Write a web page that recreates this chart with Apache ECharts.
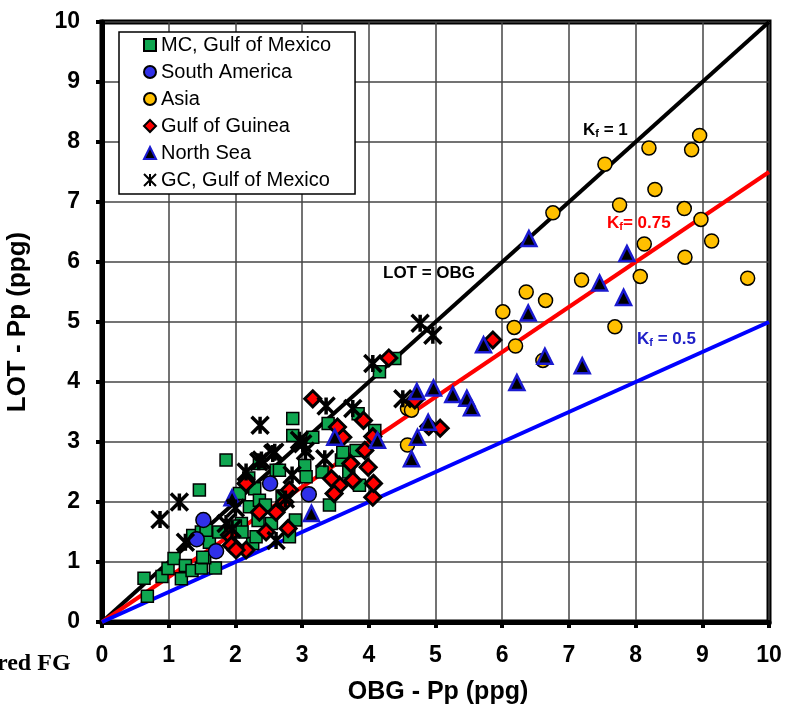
<!DOCTYPE html>
<html>
<head>
<meta charset="utf-8">
<script src="https://cdn.jsdelivr.net/npm/echarts@6/dist/echarts.min.js"></script>
<style>
  html, body { margin: 0; padding: 0; background: #fff; }
  #chart { width: 789px; height: 714px; }
</style>
</head>
<body>
<div id="chart"></div>
<script>
// 数据：OBG - Pp (x) 与 LOT - Pp (y)，单位 ppg
const mcGulf = [
  [0.63,0.73],[0.68,0.43],[0.90,0.76],[0.99,0.89],[1.08,1.06],[1.19,0.72],[1.25,0.94],[1.35,0.86],
  [1.49,0.90],[1.70,0.90],[1.54,1.07],[1.36,1.44],[1.49,1.50],[1.61,1.33],[1.46,2.20],[1.86,2.70],
  [1.51,1.08],[1.56,1.53],[1.75,1.50],[2.09,1.64],[2.34,1.69],[2.54,1.64],[2.26,1.31],[2.31,1.42],
  [2.81,1.42],[2.21,1.92],[2.06,2.14],[2.29,2.22],[2.36,2.03],[2.36,2.64],[2.61,2.53],[2.66,2.53],
  [3.04,2.61],[3.06,2.42],[2.86,3.39],[2.86,3.11],[3.16,3.08],[3.39,3.31],[3.84,3.47],[4.09,3.19],
  [3.59,2.70],[3.41,1.95],[3.86,2.28],[3.81,2.86],[3.61,2.83],[4.16,4.17],[4.39,4.39],[2.00,1.60],
  [2.10,1.50],[2.45,1.95],[2.70,2.10],[2.90,1.70],[2.20,2.40],[3.30,2.50],[3.70,2.50]
];
const southAmerica = [[1.52,1.70],[1.71,1.18],[1.42,1.38],[2.52,2.31],[3.10,2.13]];
const asia = [
  [7.54,7.63],[8.96,8.11],[8.20,7.90],[8.84,7.87],[8.29,7.21],[7.76,6.95],[8.73,6.89],[6.76,6.82],
  [8.98,6.71],[8.13,6.30],[9.14,6.35],[8.74,6.08],[8.07,5.76],[7.19,5.70],[9.68,5.73],[6.36,5.50],
  [6.65,5.36],[7.69,4.92],[6.01,5.17],[6.18,4.91],[6.20,4.60],[6.61,4.36],[4.58,3.56],[4.64,3.53],
  [4.58,2.95]
];
const gulfGuinea = [
  [3.16,3.72],[4.30,4.40],[3.92,3.36],[3.61,3.08],[4.06,3.09],[3.53,3.25],[3.99,2.58],[3.73,2.64],
  [3.56,2.28],[3.48,2.14],[4.06,2.08],[4.07,2.31],[3.76,2.36],[3.44,2.39],[3.94,2.86],[2.16,2.31],
  [4.69,3.70],[4.90,3.26],[5.07,3.23],[5.86,4.70],[2.81,2.20],[2.74,2.00],[2.79,1.56],[2.46,1.50],
  [2.16,1.20],[1.99,1.25],[1.91,1.45],[2.36,1.83],[2.61,1.83],[1.94,1.28],[2.01,1.20]
];
const northSea = [
  [6.40,6.39],[7.87,6.14],[7.46,5.65],[7.82,5.41],[6.39,5.15],[5.72,4.62],[6.64,4.43],[7.20,4.27],
  [6.22,3.99],[4.97,3.90],[4.72,3.84],[5.26,3.79],[5.47,3.73],[5.54,3.57],[4.73,3.08],[4.64,2.72],
  [4.89,3.33],[3.14,1.81],[1.95,2.07],[3.49,3.08],[4.13,3.03]
];
const gcGulf = [
  [0.87,1.71],[1.16,2.00],[1.25,1.33],[1.86,1.64],[2.16,2.50],[2.39,2.70],[2.59,2.83],[2.61,1.36],
  [2.37,3.28],[2.96,3.03],[3.01,2.97],[3.34,2.72],[3.36,3.60],[3.76,3.56],[4.06,4.31],[4.77,4.98],
  [4.96,4.78],[4.51,3.72],[2.56,2.81],[2.35,2.67],[2.00,1.90],[2.75,2.05],[2.85,2.45],[3.05,2.85],
  [1.95,1.55]
];
const kfValues = [1, 0.75, 0.5];
const kfColors = ['#000000', '#ff0000', '#0000ff'];
const axisTicks = [0, 10, 1]; // min, max, interval

const chart = echarts.init(document.getElementById('chart'));

const font = 'Liberation Sans, Arial, sans-serif';
const starPath = 'path://M0,0L10,10M10,0L0,10M5,0L5,10';

function scatter(name, data, symbol, size, color, border, bw) {
  return {
    name, type: 'scatter', data, symbol, symbolSize: size,
    itemStyle: { color, borderColor: border, borderWidth: bw, opacity: 1 },
    z: 3
  };
}

const lineSeries = kfValues.map((k, i) => ({
  name: 'Kf ' + k, type: 'line',
  data: [[axisTicks[0], axisTicks[0] * k], [axisTicks[1], axisTicks[1] * k]],
  symbol: 'none', silent: true,
  lineStyle: { color: kfColors[i], width: 4 },
  z: 2
}));

function kfRich(color) {
  return {
    a: { font: 'bold 17px ' + font, fill: color },
    b: { font: 'bold 11px ' + font, fill: color, padding: [6, 0, 0, 0] }
  };
}

const option = {
  animation: false,
  backgroundColor: '#fff',
  grid: { left: 102, right: 20, top: 22, bottom: 92, show: true, borderColor: '#000', borderWidth: 5 },
  xAxis: {
    type: 'value', min: axisTicks[0], max: axisTicks[1], interval: axisTicks[2],
    axisLine: { lineStyle: { color: '#000', width: 5 } },
    axisTick: { show: true, length: 6, lineStyle: { color: '#000', width: 4 } },
    axisLabel: { margin: 22, fontSize: 23, fontWeight: 'bold', color: '#000', fontFamily: font },
    splitLine: { lineStyle: { color: '#444', width: 1.5 } }
  },
  yAxis: {
    type: 'value', min: axisTicks[0], max: axisTicks[1], interval: axisTicks[2],
    axisLine: { lineStyle: { color: '#000', width: 5 } },
    axisTick: { show: true, length: 6, lineStyle: { color: '#000', width: 4 } },
    axisLabel: { margin: 22, fontSize: 23, fontWeight: 'bold', color: '#000', fontFamily: font },
    splitLine: { lineStyle: { color: '#444', width: 1.5 } }
  },
  legend: {
    data: ['MC, Gulf of Mexico', 'South America', 'Asia', 'Gulf of Guinea', 'North Sea', 'GC, Gulf of Mexico'],
    orient: 'vertical', left: 119, top: 32,
    padding: [3, 24, 4, 24],
    itemGap: 7, itemWidth: 12, itemHeight: 12,
    borderColor: '#000', borderWidth: 1.5, backgroundColor: '#fff',
    textStyle: { fontSize: 20, color: '#000', fontFamily: font, lineHeight: 18 }
  },
  graphic: [
    { type: 'text', x: 438, y: 680,
      style: { text: 'OBG - Pp (ppg)', font: 'bold 25px ' + font, fill: '#000', align: 'center' } },
    { type: 'text', x: 5, y: 322, rotation: Math.PI / 2,
      style: { text: 'LOT - Pp (ppg)', font: 'bold 26px ' + font, fill: '#000', align: 'center' } },
    { type: 'text', x: -3, y: 652,
      style: { text: 'red FG', font: 'bold 24px Liberation Serif, Times New Roman, serif', fill: '#000' } },
    { type: 'text', x: 383, y: 265,
      style: { text: 'LOT = OBG', font: 'bold 17px ' + font, fill: '#000' } },
    { type: 'text', x: 583, y: 122,
      style: { text: '{a|K}{b|f}{a| = 1}', rich: kfRich('#000') } },
    { type: 'text', x: 607, y: 215,
      style: { text: '{a|K}{b|f}{a|= 0.75}', rich: kfRich('#ff0000') } },
    { type: 'text', x: 637, y: 331,
      style: { text: '{a|K}{b|f}{a| = 0.5}', rich: kfRich('#2020c8') } }
  ],
  series: [
    ...lineSeries,
    scatter('MC, Gulf of Mexico', mcGulf, 'rect', 12, '#0fa650', '#000', 1.5),
    scatter('South America', southAmerica, 'circle', 15, '#3030e8', '#000', 1.5),
    scatter('Asia', asia, 'circle', 14, '#ffc000', '#000', 1.5),
    scatter('Gulf of Guinea', gulfGuinea, 'diamond', 16, '#ff0000', '#000', 3),
    scatter('North Sea', northSea, 'triangle', 15, '#000', '#1a1ad0', 2.5),
    scatter('GC, Gulf of Mexico', gcGulf, starPath, 17, '#000', '#000', 3.5)
  ]
};

chart.setOption(option);
</script>
</body>
</html>
